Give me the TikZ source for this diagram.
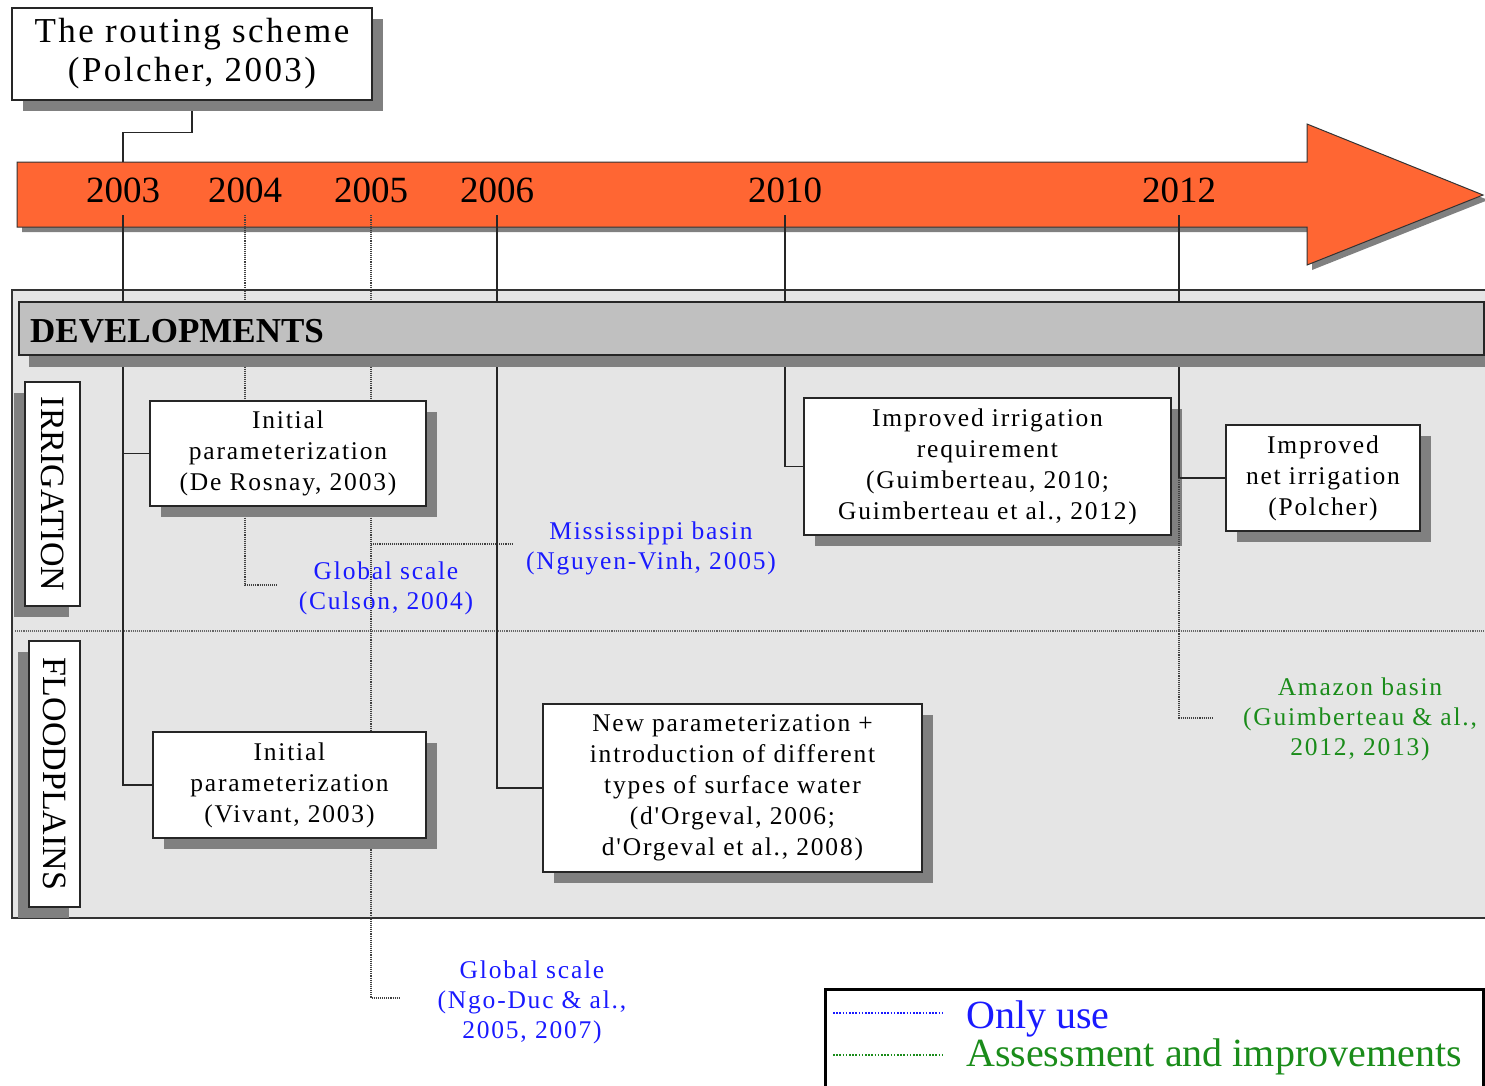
\documentclass[tikz,border=0pt]{standalone}
\usepackage{fontspec}
\setmainfont{Liberation Serif}
\newfontfamily\widefont[LetterSpace=7]{Liberation Serif}
\usetikzlibrary{shadows,calc}
\definecolor{timeline}{HTML}{FF6633}
\definecolor{panelgray}{HTML}{E5E5E5}
\definecolor{bargray}{HTML}{C0C0C0}
\definecolor{shadowgray}{HTML}{808080}
\definecolor{useblue}{HTML}{1A1AFF}
\definecolor{assessgreen}{HTML}{1A8C1A}
\pgfdeclarelayer{bg}
\pgfdeclarelayer{links}
\pgfsetlayers{bg,links,main}
\begin{document}
\begin{tikzpicture}[x=1pt,y=-1pt,
  card/.style={draw=black!85, line width=1.5pt, fill=white, inner sep=0pt,
    align=center, font=\widefont\fontsize{25.5}{31}\selectfont,
    drop shadow={shadow xshift=11pt, shadow yshift=-11pt, fill=shadowgray, opacity=1}},
  sidecard/.style={draw=black!85, line width=1.5pt, fill=white, inner sep=0pt,
    font=\fontsize{34}{34}\selectfont,
    drop shadow={shadow xshift=-11pt, shadow yshift=-11pt, fill=shadowgray, opacity=1}},
  year/.style={inner sep=0pt, minimum height=50pt, font=\fontsize{37}{37}\selectfont},
  note/.style={inner sep=0pt, align=center, font=\widefont\fontsize{25.5}{30}\selectfont},
  link/.style={draw=black!85, line width=1.3pt},
  dotlink/.style={draw=black!75, line width=1.1pt, densely dotted},
  legendline/.style={line width=2.5pt, dash pattern=on 1.6pt off 1.6pt},
]
\useasboundingbox (0,0) rectangle (1485,1085);

% ---------- background panel and timeline arrow ----------
\begin{pgfonlayer}{bg}
  \draw[fill=panelgray, draw=black!80, line width=1.2pt] (12,290) rectangle (1500,918);
  \fill[shadowgray, shift={(5,5)}] (17,162) -- (1307,162) -- (1307,124) -- (1483,195)
     -- (1307,265) -- (1307,227) -- (17,227) -- cycle;
  \draw[fill=timeline, draw=black!80, line width=1pt] (17,162) -- (1307,162) -- (1307,124)
     -- (1483,195) -- (1307,265) -- (1307,227) -- (17,227) -- cycle;
  \draw[dotlink, draw=black!60] (15,631) -- (1500,631);
\end{pgfonlayer}

% ---------- years ----------
\node[year] (y2003) at (123,190) {2003};
\node[year] (y2004) at (245,190) {2004};
\node[year] (y2005) at (371,190) {2005};
\node[year] (y2006) at (497,190) {2006};
\node[year] (y2010) at (785,190) {2010};
\node[year] (y2012) at (1179,190) {2012};

% ---------- origin box ----------
\node[card, font=\widefont\fontsize{35}{39}\selectfont, minimum width=360pt, minimum height=92pt]
  (routing) at (192,54) {The routing scheme\\(Polcher, 2003)};
\coordinate (a03top) at (123,162);

% ---------- developments bar ----------
\node[draw=black!85, line width=1.5pt, fill=bargray, minimum width=1465pt, minimum height=53pt,
  drop shadow={shadow xshift=10pt, shadow yshift=-12pt, fill=shadowgray, opacity=1}]
  (devbar) at (751.5,328.5) {};
\node[anchor=base west, inner sep=0pt, font=\fontsize{35}{35}\selectfont\bfseries]
  (devtitle) at (30,342) {DEVELOPMENTS};

% ---------- side labels ----------
\node[sidecard, minimum width=55pt, minimum height=224pt] (irrig) at (52.5,494)
  {\rotatebox{-90}{IRRIGATION}};
\node[sidecard, minimum width=51pt, minimum height=266pt] (flood) at (54.5,774)
  {\rotatebox{-90}{FLOODPLAINS}};

% ---------- development boxes ----------
\node[card, minimum width=276pt, minimum height=105pt] (rosnay) at (288,453.5)
  {Initial\\parameterization\\(De Rosnay, 2003)};
\node[card, minimum width=273pt, minimum height=106pt] (vivant) at (289.5,785)
  {Initial\\parameterization\\(Vivant, 2003)};
\node[card, minimum width=379pt, minimum height=168pt] (newparam) at (732.5,788)
  {New parameterization +\\introduction of different\\types of surface water\\(d'Orgeval, 2006;\\d'Orgeval et al., 2008)};
\node[card, minimum width=367pt, minimum height=137pt] (guimb) at (987.5,466.5)
  {Improved irrigation\\requirement\\(Guimberteau, 2010;\\Guimberteau et al., 2012)};
\node[card, minimum width=194pt, minimum height=106pt] (polcher) at (1323,478)
  {Improved\\net irrigation\\(Polcher)};

% ---------- applications ----------
\node[note, text=useblue] (culson) at (386,588) {Global scale\\(Culson, 2004)};
\node[note, text=useblue] (nguyen) at (651,548) {Mississippi basin\\(Nguyen-Vinh, 2005)};
\node[note, text=useblue] (ngoduc) at (532,1002) {Global scale\\(Ngo-Duc \& al.,\\2005, 2007)};
\node[note, text=assessgreen] (amazon) at (1360,719) {Amazon basin\\(Guimberteau \& al.,\\2012, 2013)};

\coordinate (culsonend) at (278,585);
\coordinate (b05) at (371,544);
\coordinate (nguyenend) at (512,544);
\coordinate (ngoducend) at (400,998);
\coordinate (j12top) at (1179,368);
\coordinate (j12) at (1179,478);
\coordinate (amazonend) at (1214,718);

% ---------- connectors ----------
\begin{pgfonlayer}{links}
  \draw[link] (routing.south) -- ++(0,32) -| (a03top);
  \draw[link] (y2003.south) |- (rosnay.west);
  \draw[link] (y2003.south) |- (vivant.west);
  \draw[dotlink] (y2004.south) |- (culsonend);
  \draw[dotlink] (y2005.south) |- (ngoducend);
  \draw[dotlink] (b05) -- (nguyenend);
  \draw[link] (y2006.south) |- (newparam.west);
  \draw[link] (y2010.south) |- (guimb.west);
  \draw[link] (y2012.south) -- (j12top);
\end{pgfonlayer}
\draw[link] (j12top) -- (j12) -- (polcher.west);
\draw[dotlink] (j12) |- (amazonend);

% ---------- legend ----------
\draw[line width=3pt] (825,989) rectangle (1483,1100);
\coordinate (lb1) at (833,1013);
\coordinate (lb2) at (943,1013);
\coordinate (lg1) at (833,1055);
\coordinate (lg2) at (943,1055);
\draw[useblue, legendline] (lb1) -- (lb2);
\draw[assessgreen, legendline] (lg1) -- (lg2);
\node[anchor=base west, inner sep=0pt, text=useblue, font=\fontsize{40}{40}\selectfont]
  (onlyuse) at (966,1028) {Only use};
\node[anchor=base west, inner sep=0pt, text=assessgreen, font=\fontsize{40}{40}\selectfont]
  (assess) at (966,1066) {Assessment and improvements};
\end{tikzpicture}
\end{document}
